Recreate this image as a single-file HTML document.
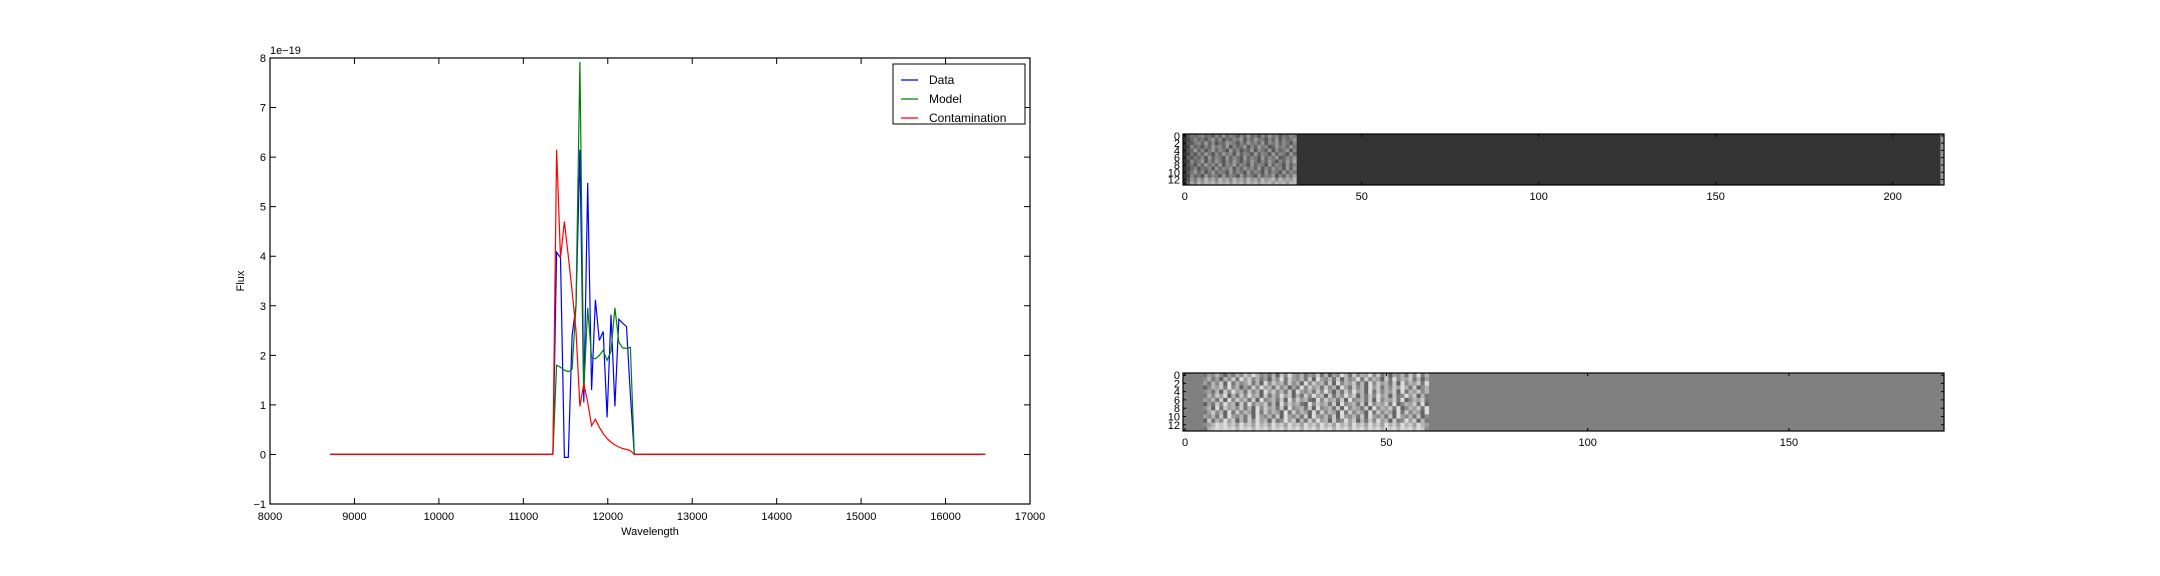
<!DOCTYPE html>
<html><head><meta charset="utf-8"><style>
html,body{margin:0;padding:0;background:#fff;}
svg{display:block;font-family:"Liberation Sans",sans-serif;}
</style></head><body>
<svg id="fig" width="2160" height="576" viewBox="0 0 2160 576" xmlns="http://www.w3.org/2000/svg">
<g id="main"></g>
<g id="img1"></g>
<g id="img2"></g>
</svg>
<script>
const wave = [8712,11350,11394,11440,11486,11532,11578,11624,11670,11716,11762,11808,11854,11900,11946,11992,12038,12084,12130,12176,12222,12268,12314,16470];
const dataFlux = [0,0,4.08,3.97,-0.06,-0.06,2.4,3.0,6.15,1.05,5.48,1.3,3.12,2.3,2.48,0.75,2.82,0.97,2.73,2.65,2.58,1.2,0,0];
const modelFlux = [0,0,1.8,1.76,1.7,1.67,1.72,3.0,7.92,1.3,2.96,1.95,1.93,2.0,2.1,1.9,2.08,2.96,2.27,2.15,2.14,2.16,0,0];
const contamFlux = [0,0,6.15,3.97,4.7,4.0,3.3,2.5,0.97,1.43,1.05,0.58,0.71,0.55,0.42,0.32,0.25,0.19,0.15,0.12,0.1,0.08,0,0];
const xTicks = [8000,9000,10000,11000,12000,13000,14000,15000,16000,17000];
const yTicks = [-1,0,1,2,3,4,5,6,7,8];
const seriesNames = ["Data","Model","Contamination"];
const seriesColors = ["#0000ff","#008000","#ff0000"];

const img1Rows = [
"3545645364746536474536475635465",
"2464535746354657364755364736457",
"3356474635476536475647365746536",
"2645364756473645736475634756475",
"3474635746537463547365473645736",
"2536475364756374653746537465374",
"4354637465374653746537465734657",
"2645736475364753647536475364758",
"3536475647365746537465374653746",
"2463546374657364756473647563747",
"3574635746537465374653746537465",
"2645374653746537465374657364758",
"3758697869786978697869789697879",
"4869798979897989798979897989799"];
const img2Rows = [
"46575364758697564738596574658473659748576958473657485947",
"57463758496857463759486574839657483756948576384957684736",
"64758394756847395867485739586748395768473958674839576849",
"35768495736485967485736495867485739648573968475869748357",
"56473859674857396857483965748596374859673948576839476857",
"47586937485967384759683748596738475968374859673845968374",
"65748395867483956748395867439586748395674839576849357684",
"36485967384957684739586743958674839567483957684935768493",
"57394867584739586748395674839567483957648395768493576849",
"46857394857639485763948576394857639485763948576394857639",
"65748396574839657483965748396574839657483965748396574835",
"38475968374859673845968374859673845968374859673845968374",
"56798978697869786978697869786978697869786978697869786976",
"47898989798979897989798979897989798979897989798979897985"];

const NS="http://www.w3.org/2000/svg";
function mk(parent,tag,attrs){const e=document.createElementNS(NS,tag);for(const k in attrs)e.setAttribute(k,attrs[k]);parent.appendChild(e);return e;}

// ---- main chart ----
const M=document.getElementById('main');
const L=270,R=1030,T=58,B=504;
const X=v=>L+(v-8000)/9000*(R-L);
const Y=v=>B-(v+1)/9*(B-T);
for(const t of xTicks){
  const x=X(t);
  const tk=mk(M,'path',{d:`M${x} ${B}v-6M${x} ${T}v6`,stroke:'#000','stroke-width':1});
  
  
  const tl=mk(M,'text',{x:x,y:B+16,'font-size':11,'text-anchor':'middle'});tl.textContent=t;
  
  
}
for(const t of yTicks){
  const y=Y(t);
  const tk=mk(M,'path',{d:`M${L} ${y}h6M${R} ${y}h-6`,stroke:'#000','stroke-width':1});
  
  
  const tl=mk(M,'text',{x:L-4,y:y+4,'font-size':11,'text-anchor':'end'});tl.textContent=(t<0?'\u2212'+(-t):t);
  
  
}
const ser=[dataFlux,modelFlux,contamFlux];
ser.forEach((s,i)=>{
  const d=s.map((v,j)=>(j?'L':'M')+X(wave[j]).toFixed(1)+' '+Y(v).toFixed(1)).join('');
  const p=mk(M,'path',{d:d,fill:'none',stroke:seriesColors[i],'stroke-width':1.2});
  
  
});
const fr=mk(M,'rect',{x:L,y:T,width:R-L,height:B-T,fill:'none',stroke:'#000','stroke-width':1.2});


const off=mk(M,'text',{x:L,y:T-4,'font-size':11});off.textContent='1e\u221219';


const xl=mk(M,'text',{x:(L+R)/2,y:B+31,'font-size':11,'text-anchor':'middle'});xl.textContent='Wavelength';


const yl=mk(M,'text',{x:0,y:0,'font-size':11,'text-anchor':'middle',transform:`translate(244 ${(T+B)/2}) rotate(-90)`});yl.textContent='Flux';


const lg=mk(M,'g',{});


mk(lg,'rect',{x:893,y:64,width:132,height:60,fill:'#fff',stroke:'#000','stroke-width':1});
seriesNames.forEach((n,i)=>{
  const y=80+i*19;
  const ln=mk(lg,'path',{d:`M901 ${y}h17`,stroke:seriesColors[i],'stroke-width':1.2});
  
  
  const t=mk(lg,'text',{x:929,y:y+4,'font-size':12});t.textContent=n;
  
  
});

// ---- images ----
function drawImg(G,x0,y0,w,h,ncols,nrows,rows,startCol,bg,base,span,lastCol,xt){
  const cw=w/ncols,ch=h/nrows;
  mk(G,'rect',{x:x0,y:y0,width:w,height:h,fill:bg});
  rows.forEach((r,ri)=>{
    for(let c=0;c<r.length;c++){
      const g=Math.round(base+(+r[c])*span);
      const cell=mk(G,'rect',{x:(x0+(startCol+c)*cw).toFixed(2),y:(y0+ri*ch).toFixed(2),width:(cw+0.4).toFixed(2),height:(ch+0.4).toFixed(2),fill:`rgb(${g},${g},${g})`});
      
      
    }
  });
  if(lastCol){mk(G,'rect',{x:x0+w-cw,y:y0,width:cw,height:h,fill:lastCol});}
  mk(G,'rect',{x:x0,y:y0,width:w,height:h,fill:'none',stroke:'#000','stroke-width':1.2});
  for(let r=0;r<=12;r+=2){
    const y=y0+(r+0.5)*ch;
    mk(G,'path',{d:`M${x0} ${y}h3M${x0+w} ${y}h-3`,stroke:'#000'});
    const t=mk(G,'text',{x:x0-3,y:y+4,'font-size':11,'text-anchor':'end'});t.textContent=r;
    
    
  }
  for(const v of xt){
    const x=x0+(v+0.5)*cw;
    mk(G,'path',{d:`M${x} ${y0+h}v-3M${x} ${y0}v3`,stroke:'#000'});
    const t=mk(G,'text',{x:x,y:y0+h+15,'font-size':11,'text-anchor':'middle'});t.textContent=v;
    
    
  }
}
drawImg(document.getElementById('img1'),1183,134,761,51,215,14,img1Rows,1,'#333333',40,16,'#9a9a9a',[0,50,100,150,200]);
drawImg(document.getElementById('img2'),1183,373,761,58,189,14,img2Rows,5,'#808080',40,20,null,[0,50,100,150]);
</script>
</body></html>
